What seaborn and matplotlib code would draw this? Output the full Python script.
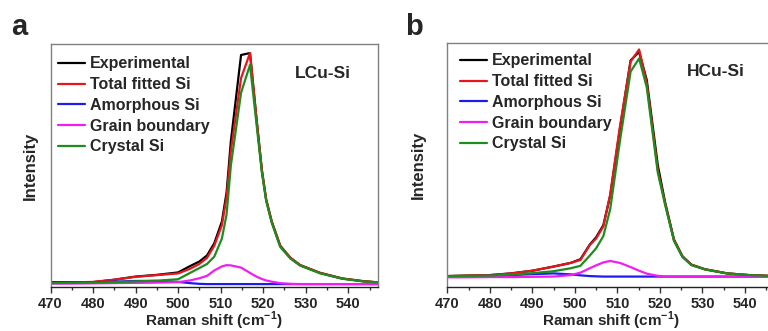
import matplotlib
matplotlib.use("Agg")
import matplotlib.pyplot as plt
import seaborn as sns
from matplotlib.ticker import MultipleLocator

sns.set_theme(style="white")
plt.rcParams['font.family'] = ['Liberation Sans', 'DejaVu Sans']
plt.rcParams['mathtext.fontset'] = 'custom'
plt.rcParams['mathtext.rm'] = 'Liberation Sans'
plt.rcParams['mathtext.bf'] = 'Liberation Sans:bold'

series_names = ["Experimental", "Total fitted Si", "Amorphous Si", "Grain boundary", "Crystal Si"]
series_colors = ["#000000", "#e8161c", "#1c1cf0", "#f01ef0", "#1e8c1e"]

# Panel a (LCu-Si)
xa = [470, 475, 480, 485, 490, 495, 500, 502.8, 505, 506.8, 508.5, 510.3, 511.4, 512.4,
      514.8, 516.9, 518.5, 519.7, 520.7, 522.0, 524.0, 526.4, 528.7, 533.4, 538.6, 543.5, 547]
a_exp = [.020, .020, .020, .030, .043, .050, .060, .086, .105, .130, .180, .270, .390, .600,
         .955, .963, .680, .480, .360, .270, .170, .120, .090, .058, .035, .024, .019]
a_total = [.018, .019, .021, .030, .042, .049, .056, .075, .095, .120, .170, .255, .370, .560,
           .860, .963, .680, .480, .360, .270, .170, .120, .090, .058, .035, .024, .019]
a_amorph = [.017, .018, .019, .022, .025, .025, .021, .016, .013, .012, .012, .012, .012, .012,
            .012, .012, .012, .012, .012, .012, .012, .012, .012, .012, .012, .012, .012]
a_grain = [.014, .014, .015, .016, .017, .018, .020, .027, .036, .046, .068, .085, .090, .089,
           .080, .058, .042, .033, .027, .022, .016, .013, .012, .012, .012, .012, .012]
a_crystal = [.016, .017, .018, .020, .023, .026, .032, .058, .078, .095, .125, .200, .300, .500,
             .800, .914, .660, .470, .355, .265, .165, .117, .088, .056, .034, .023, .019]

# Panel b (HCu-Si)
xb = [470, 475, 480, 485, 490, 495, 499, 501.3, 503.5, 505, 506.7, 508.3, 510.6, 513.1, 515.1,
      516.9, 519.5, 521.2, 523.3, 525.3, 527.4, 530.6, 535.8, 541, 547]
b_exp = [.046, .048, .050, .057, .068, .085, .100, .115, .175, .205, .255, .375, .650, .930,
         .965, .850, .500, .350, .196, .127, .093, .074, .057, .050, .046]
b_total = [.046, .048, .050, .057, .068, .085, .100, .112, .173, .200, .250, .380, .660, .925,
           .975, .837, .480, .344, .194, .126, .092, .074, .057, .050, .046]
b_amorph = [.044, .045, .047, .050, .054, .057, .053, .049, .046, .045, .044, .044, .044, .044,
            .044, .044, .044, .044, .044, .044, .044, .044, .044, .044, .044]
b_grain = [.041, .041, .042, .042, .043, .044, .050, .060, .078, .090, .102, .108, .100, .083,
           .068, .056, .047, .044, .044, .044, .044, .044, .044, .044, .044]
b_crystal = [.046, .047, .048, .052, .058, .066, .078, .088, .130, .160, .210, .320, .600, .884,
             .938, .820, .470, .340, .190, .124, .091, .073, .057, .050, .046]

xticks = [470, 480, 490, 500, 510, 520, 530, 540]
xlabel = r"Raman shift (cm$^{\mathbf{-1}}$)"
ylabel = "Intensity"

fig = plt.figure(figsize=(7.68, 3.31), dpi=100)
ax_a = fig.add_axes([0.0658, 0.1329, 0.4264, 0.734])
ax_b = fig.add_axes([0.5824, 0.132, 0.4264, 0.737])

panels = [
    (ax_a, xa, [a_exp, a_total, a_amorph, a_grain, a_crystal], "LCu-Si", (0.747, 0.88), (0.012, 0.962), 9),
    (ax_b, xb, [b_exp, b_total, b_amorph, b_grain, b_crystal], "HCu-Si", (0.733, 0.884), (0.030, 0.972), 15.5),
]

for ax, x, ys, tag, tpos, lpos, ypad in panels:
    for name, col, y in zip(series_names, series_colors, ys):
        sns.lineplot(x=x, y=y, ax=ax, color=col, lw=1.6, label=name, sort=False, errorbar=None)
    ax.set_xlim(470, 547)
    ax.set_ylim(0, 1)
    ax.set_xticks(xticks)
    ax.xaxis.set_minor_locator(MultipleLocator(5))
    ax.set_yticks([])
    ax.tick_params(axis='x', which='major', direction='out', length=4, width=1,
                   color='#333333', labelsize=10.5, pad=3, bottom=True)
    ax.tick_params(axis='x', which='minor', direction='out', length=2.5, width=1,
                   color='#333333', bottom=True)
    for lab in ax.get_xticklabels():
        lab.set_fontweight('bold')
    for s in ['left', 'top', 'right']:
        ax.spines[s].set_color('#808080')
        ax.spines[s].set_linewidth(1.0)
    ax.spines['bottom'].set_color('#222222')
    ax.spines['bottom'].set_linewidth(1.0)
    ax.set_xlabel(xlabel, fontsize=11, fontweight='bold', labelpad=-1)
    ax.set_ylabel(ylabel, fontsize=12, fontweight='bold', labelpad=ypad)
    leg = ax.legend(loc='upper left', bbox_to_anchor=lpos, frameon=False,
                    prop={'weight': 'bold', 'size': 11.5}, handlelength=1.7,
                    handletextpad=0.3, labelspacing=0.36, borderaxespad=0, borderpad=0.2)
    for h in leg.get_lines():
        h.set_linewidth(1.6)
    ax.text(tpos[0], tpos[1], tag, transform=ax.transAxes, fontsize=12.5,
            fontweight='bold', va='center', ha='left')

fig.text(11 / 768, 1 - 35 / 331, "a", fontsize=21, fontweight='bold', ha='left', va='baseline')
fig.text(405 / 768, 1 - 35 / 331, "b", fontsize=21, fontweight='bold', ha='left', va='baseline')

fig.savefig("out.png", dpi=100)
